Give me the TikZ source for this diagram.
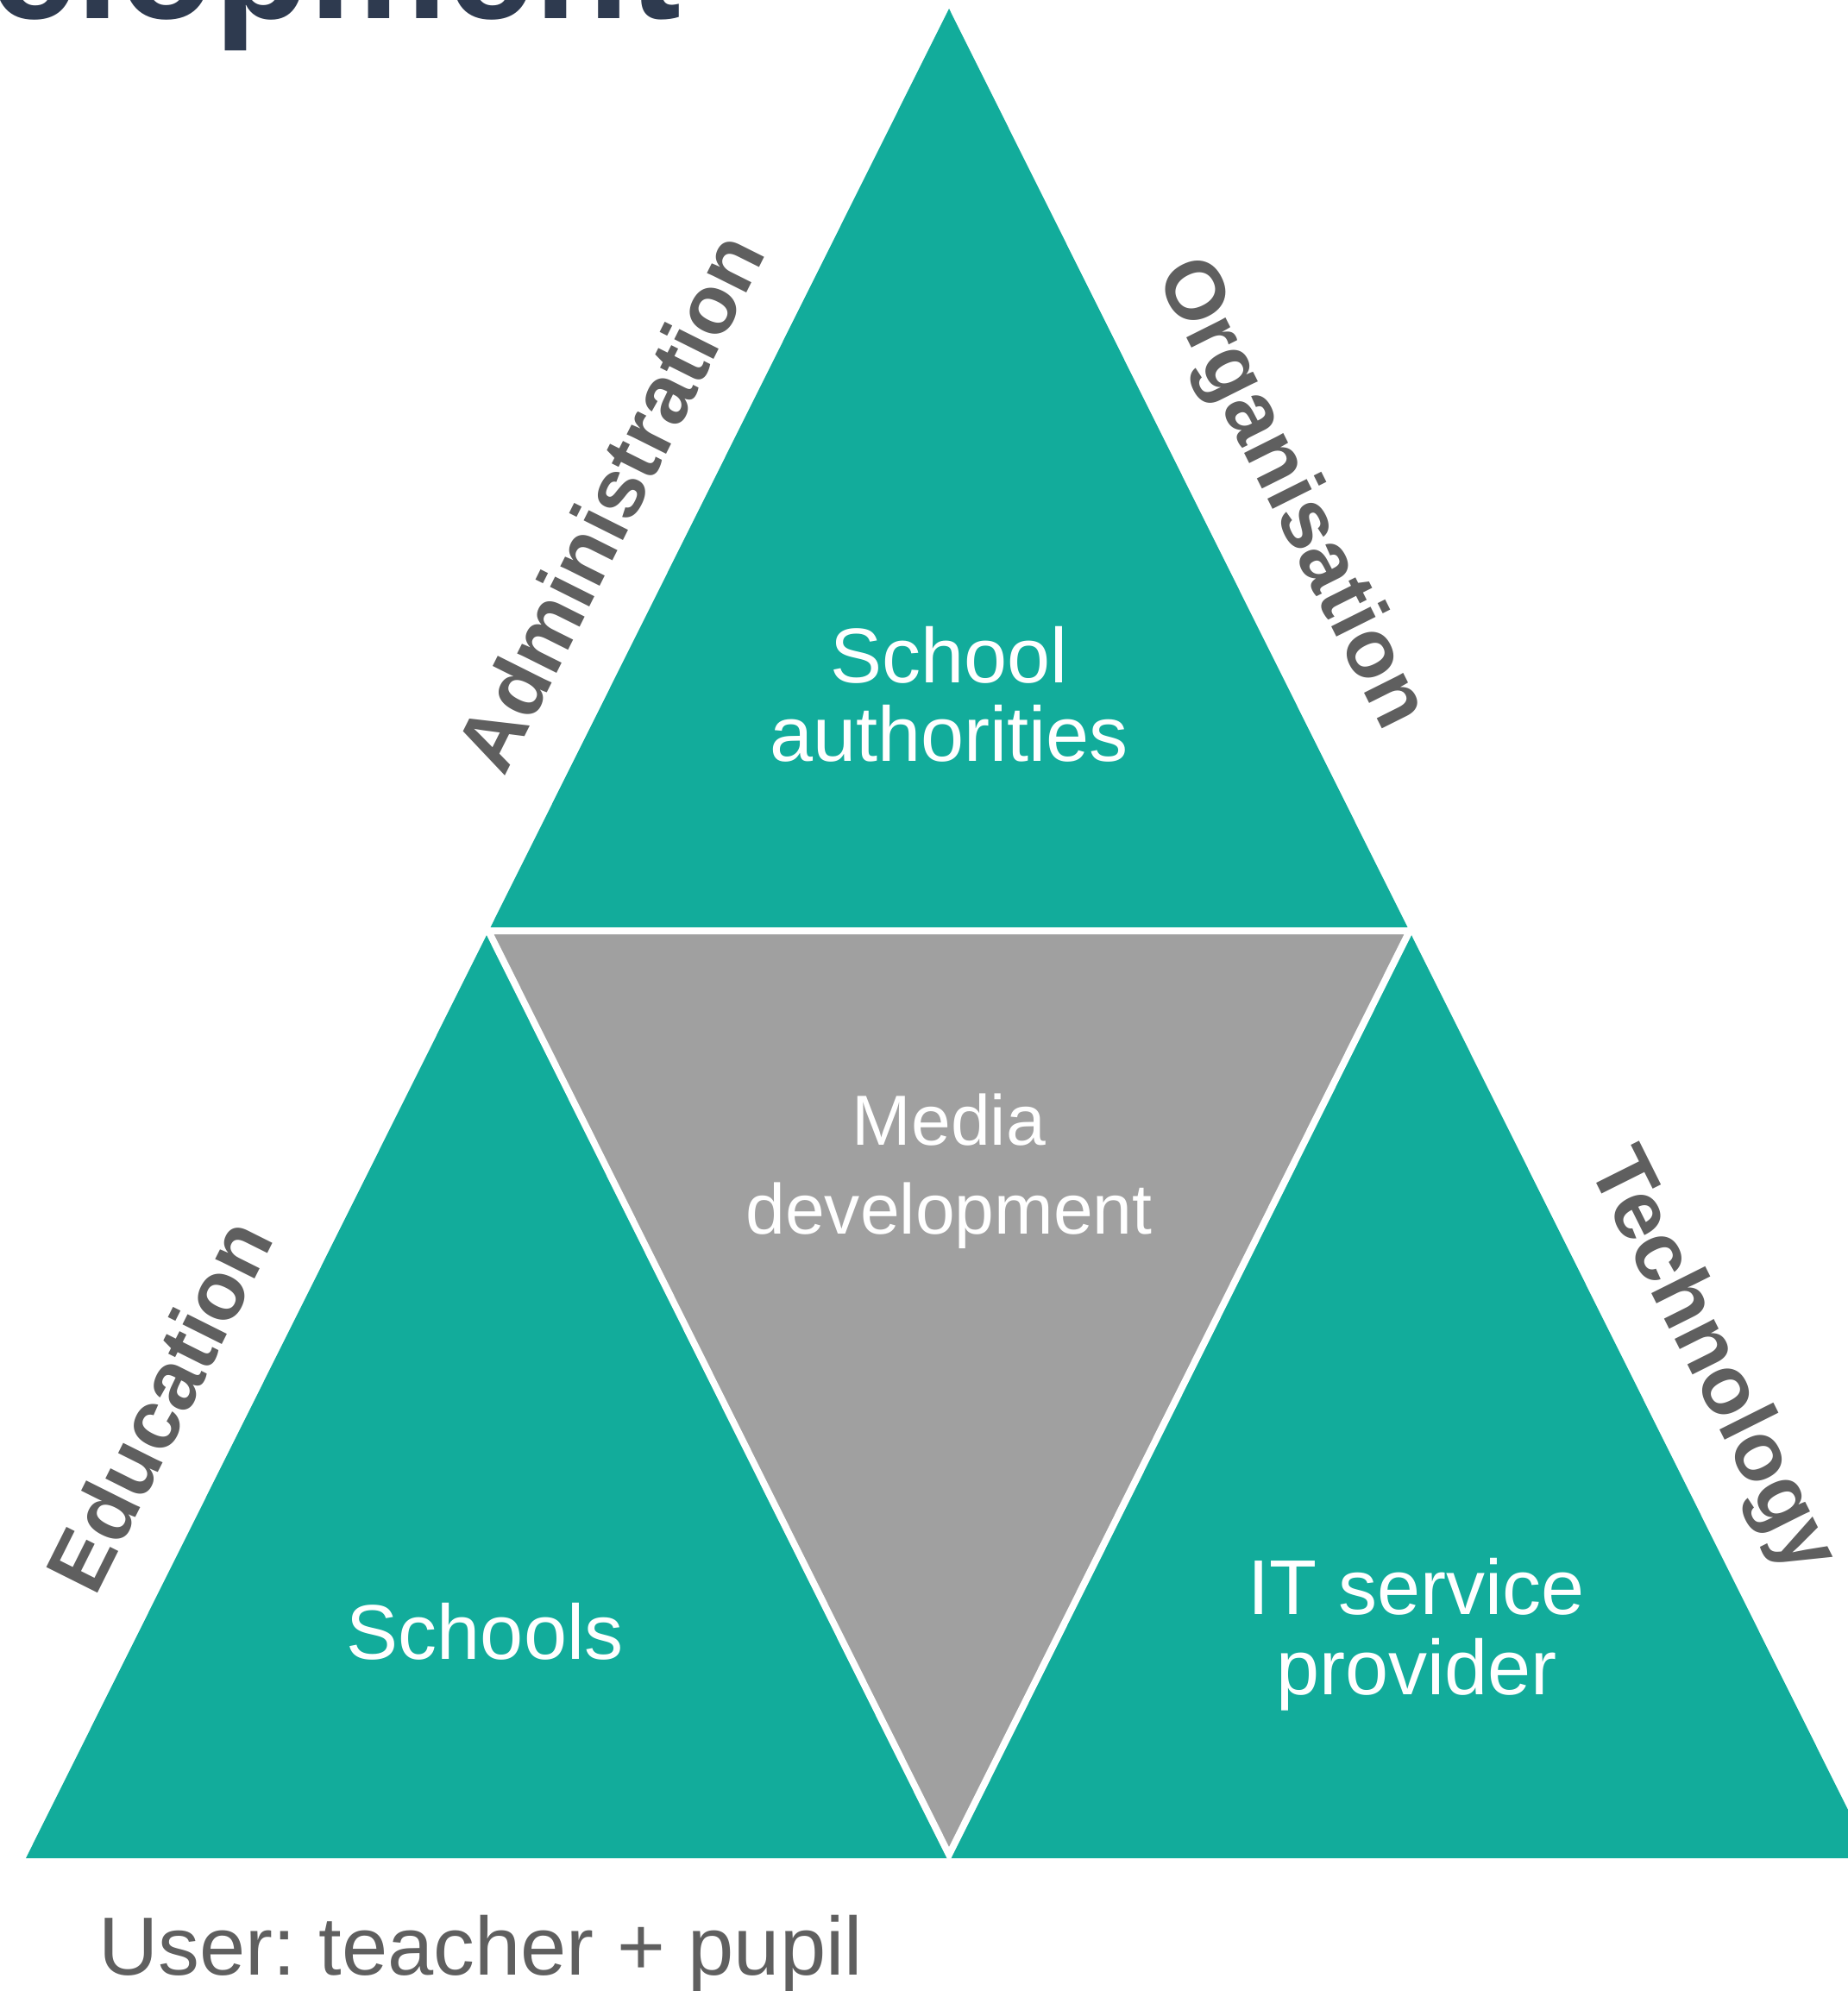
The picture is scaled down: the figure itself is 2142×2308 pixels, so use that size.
\documentclass[tikz,border=0pt]{standalone}
\usepackage{fontspec}
\setmainfont{Liberation Sans}
\frenchspacing
\definecolor{tealfill}{HTML}{12AC9B}
\definecolor{midgray}{HTML}{A0A0A0}
\definecolor{labelgray}{HTML}{5F5F5F}
\definecolor{navytitle}{HTML}{2E3A4F}
\begin{document}
\begin{tikzpicture}[x=0.01cm,y=-0.01cm,
  intext/.style={font=\fontsize{25.6}{25.9}\selectfont, text=white, inner sep=0pt, anchor=base},
  sidelabel/.style={font=\bfseries\fontsize{27.4}{28}\selectfont, text=labelgray, inner sep=0pt, anchor=base},
  gapline/.style={draw=white, line width=0.08cm}
]
\useasboundingbox (0,0) rectangle (2142,2308);
\clip (0,0) rectangle (2142,2308);
% vertices
\coordinate (bl) at (30,2154);
\coordinate (apex) at (1100,10);
\coordinate (br) at (2170,2154);
\coordinate (ml) at (566,1079);
\coordinate (mr) at (1634,1079);
\coordinate (mb) at (1100,2150);
% big teal triangle
\fill[tealfill] (bl) -- (apex) -- (br) -- cycle;
% inner grey triangle with white gaps
\filldraw[fill=midgray, gapline] (ml) -- (mr) -- (mb) -- cycle;
% texts inside
\node[intext] (sa1) at (1100,791) {School};
\node[intext] (sa2) at (1100,882) {authorities};
\node[intext, font=\fontsize{23.4}{24}\selectfont] (md1) at (1100,1327) {Media};
\node[intext, font=\fontsize{23.4}{24}\selectfont] (md2) at (1100,1430) {development};
\node[intext] (sch) at (562,1923) {Schools};
\node[intext] (it1) at (1642,1871) {IT service};
\node[intext] (it2) at (1642,1964) {provider};
% side labels
\node[sidelabel, rotate=63.43] (adm) at (737,597) {Administration};
\node[sidelabel, rotate=-63.43] (org) at (1472,584) {Organisation};
\node[sidelabel, rotate=63.43] (edu) at (215,1644) {Education};
\node[sidelabel, rotate=-63.43] (tec) at (1960,1590) {Technology};
% title fragment and footer
\node[font=\bfseries\fontsize{51.2}{52}\selectfont, text=navytitle, inner sep=0pt, anchor=base west] (title) at (-12,21) {elopment};
\node[font=\fontsize{27.2}{28}\selectfont, text=labelgray, inner sep=0pt, anchor=base west] (user) at (114,2289) {User: teacher + pupil};
\end{tikzpicture}
\end{document}
